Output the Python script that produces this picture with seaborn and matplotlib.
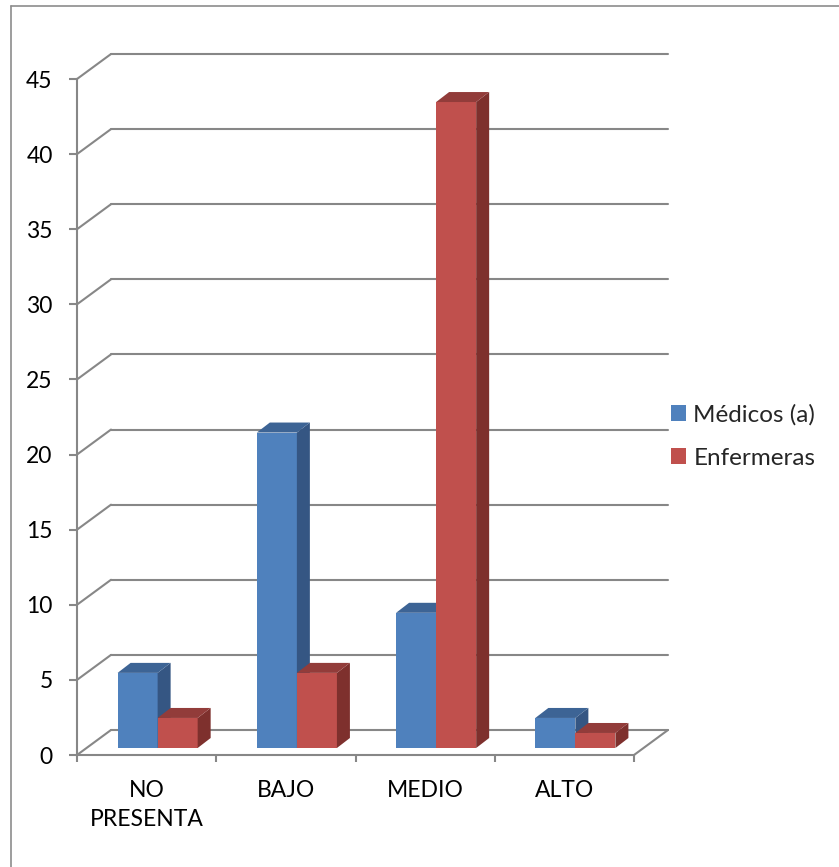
import pandas as pd
import matplotlib
matplotlib.use("Agg")
import matplotlib.pyplot as plt
import matplotlib.transforms as mtransforms
from matplotlib.patches import Polygon, Patch
from matplotlib.lines import Line2D
import seaborn as sns

# data
niveles = ["NO\nPRESENTA", "BAJO", "MEDIO", "ALTO"]
medicos = [5, 21, 9, 2]
enfermeras = [2, 5, 43, 1]
series = ["Médicos (a)", "Enfermeras"]
y_ticks = list(range(0, 50, 5))

# colours: front, side, top
frente = ["#4F81BD", "#C0504D"]
lado = ["#355683", "#7E302D"]
techo = ["#3D6495", "#923C3A"]
gris = "#878787"

df = pd.DataFrame({
    "nivel": niveles * 2,
    "valor": medicos + enfermeras,
    "grupo": [series[0]] * len(niveles) + [series[1]] * len(niveles),
})

sns.set_theme(style="white")
plt.rcParams["font.family"] = ["Lato", "DejaVu Sans"]

W, H, DPI = 839, 867, 100
fig = plt.figure(figsize=(W / DPI, H / DPI), dpi=DPI, facecolor="white")
# front plane of the 3d box
ax = fig.add_axes([77 / W, (H - 755) / H, 557 / W, 676 / H])

sns.barplot(data=df, x="nivel", y="valor", hue="grupo", palette=frente,
            width=0.575, saturation=1, errorbar=None, legend=False,
            linewidth=0, ax=ax)
ax.set_xlim(-0.5, 3.5)
ax.set_ylim(0, 45)

px_x = 557 / 4  # pixels per category
px_y = 676 / 45  # pixels per unit


def shift(dx, dy):
    return ax.transData + mtransforms.ScaledTranslation(dx / DPI, dy / DPI, fig.dpi_scale_trans)


# bars sit a little behind the front plane, with depth faces
bar_tr = shift(11, 7)
ddx, ddy = 13 / px_x, 10 / px_y
n = len(niveles)
for i, p in enumerate(list(ax.patches)):
    h = i // n
    p.set_transform(bar_tr)
    p.set_clip_on(False)
    p.set_zorder(3 + h)
    x0, w, top = p.get_x(), p.get_width(), p.get_height()
    side = Polygon([(x0 + w, 0), (x0 + w + ddx, ddy), (x0 + w + ddx, top + ddy), (x0 + w, top)],
                   closed=True, fc=lado[h], ec="none", transform=bar_tr, clip_on=False, zorder=3.1 + h)
    cap = Polygon([(x0, top), (x0 + w, top), (x0 + w + ddx, top + ddy), (x0 + ddx, top + ddy)],
                  closed=True, fc=techo[h], ec="none", transform=bar_tr, clip_on=False, zorder=3.2 + h)
    ax.add_patch(side)
    ax.add_patch(cap)

# back wall gridlines + left wall diagonals
bx, by = 34 / px_x, 25 / px_y
for v in y_ticks:
    ax.plot([-0.5 + bx, 3.5 + bx], [v + by, v + by], color=gris, lw=1.5, clip_on=False, zorder=1)
    ax.plot([-0.5, -0.5 + bx], [v, v + by], color=gris, lw=1.5, clip_on=False, zorder=1)
ax.plot([3.5, 3.5 + bx], [0, by], color=gris, lw=1.5, clip_on=False, zorder=1)

for s in ["top", "right"]:
    ax.spines[s].set_visible(False)
for s in ["left", "bottom"]:
    ax.spines[s].set_color(gris)
    ax.spines[s].set_linewidth(1.5)

ax.set_yticks(y_ticks)
ax.tick_params(axis="y", left=True, direction="out", length=5.5, width=1.5,
               color=gris, pad=12, labelsize=16.5, labelcolor="black")
ax.set_xticks(range(n))
ax.set_xticklabels(niveles)
ax.set_xticks([k - 0.5 for k in range(n + 1)], minor=True)
ax.tick_params(axis="x", which="major", bottom=False, length=0, pad=18,
               labelsize=16.5, labelcolor="black")
ax.tick_params(axis="x", which="minor", bottom=True, direction="out", length=5,
               width=1.5, color=gris)
for t in ax.get_xticklabels():
    t.set_linespacing(1.45)
ax.set_xlabel("")
ax.set_ylabel("")
ax.grid(False)

# outer chart border (left and top only are visible)
fig.add_artist(Line2D([11 / W, 11 / W], [0, 1 - 6 / H], color="#8c8c8c", lw=1.2))
fig.add_artist(Line2D([11 / W, 1], [1 - 6 / H, 1 - 6 / H], color="#8c8c8c", lw=1.2))

handles = [Patch(fc=c, ec="none") for c in frente]
fig.legend(handles, series, loc="upper left", bbox_to_anchor=(671 / W, 1 - 404 / H),
           frameon=False, fontsize=17.5, handlelength=0.62, handleheight=0.62,
           handletextpad=0.3, labelspacing=0.92, borderpad=0, borderaxespad=0)

fig.savefig("out.png", dpi=DPI, facecolor="white")
